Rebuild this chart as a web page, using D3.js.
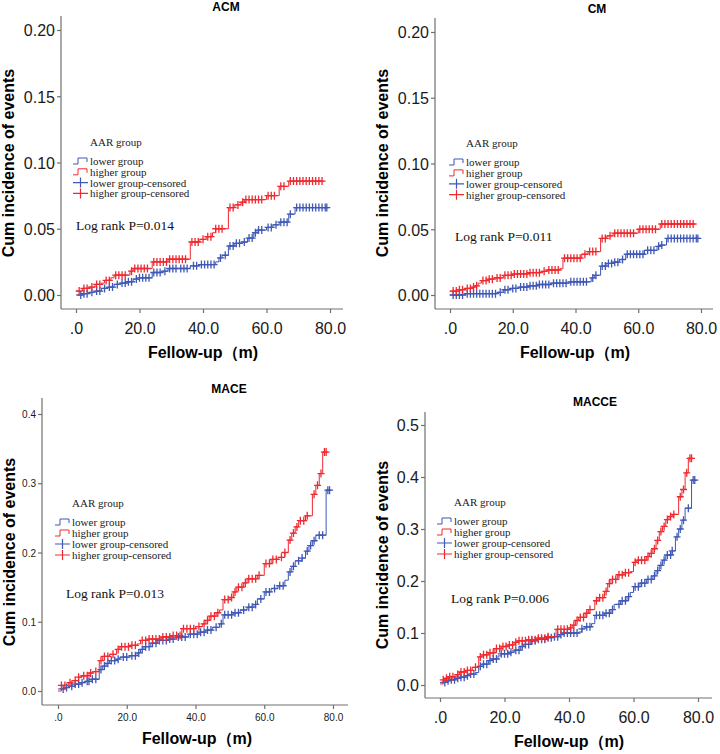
<!DOCTYPE html>
<html lang="en">
<head>
  <meta charset="UTF-8">
  <title>AAR group - cumulative incidence</title>
  <script src="https://d3js.org/d3.v7.min.js"></script>
  <style>
    body { margin: 0; background: white; }
    svg { display: block; }
  </style>
</head>
<body>
  <script>
    // ---- data ----
    const xTicks = [0, 20, 40, 60, 80];
    const smallYTicks = [0, 0.05, 0.10, 0.15, 0.20];
    const maceYTicks = [0, 0.1, 0.2, 0.3, 0.4];
    const macceYTicks = [0, 0.1, 0.2, 0.3, 0.4, 0.5];
    const legendLabels = ["lower group", "higher group", "lower group-censored", "higher group-censored"];

    // [month, cumulative incidence after the step]
    const acmLower = [[0,0],[2,0.001],[4,0.002],[6,0.003],[8,0.005],[10,0.006],[12,0.008],[14,0.009],[16,0.010],[18,0.012],[20,0.013],[24,0.017],[27,0.018],[29,0.020],[36,0.022],[39,0.023],[44,0.025],[45,0.028],[46,0.030],[48,0.037],[50,0.039],[52,0.040],[54,0.043],[56,0.047],[57,0.049],[60,0.051],[62,0.053],[64,0.055],[67,0.061],[69,0.066]];
    const acmHigher = [[0,0.003],[2,0.005],[4,0.006],[6,0.008],[8,0.009],[9,0.011],[11,0.013],[12,0.015],[17,0.018],[18,0.020],[24,0.025],[29,0.027],[36,0.040],[39,0.042],[41,0.044],[43,0.047],[44,0.050],[48,0.066],[50,0.068],[52,0.070],[53,0.072],[60,0.075],[64,0.082],[67,0.086]];
    const acmLowerCens = [1.5,2.5,3.5,5,6.5,7.5,9,10.5,11.5,13,14.5,15.5,16.5,17.5,19,20,21,22,23,24.5,25.5,26.5,28,29.5,30.5,31.5,33,34,35,37,38,39.5,40.5,41.5,42.5,43.5,45.5,47,48.5,49.5,50.5,51.5,53,54.5,55.5,56.5,57.5,58.5,60.5,61.5,63,64.5,65.5,66.5,67.5,69.5,70.5,71.5,72.5,73.5,74.5,75.5,76.5,77.5,78.5,79];
    const acmHigherCens = [1,2.5,3.5,5,6.5,7.5,9.5,10.5,12.5,13.5,14.5,15.5,17.5,18.5,19.5,20.5,21.5,22.5,24.5,25.5,26.5,27.5,28.5,29.5,30.5,31.5,32.5,33.5,34.5,36.5,37.5,38.5,40,41.5,42.5,44,45,46,48.5,49.5,51,52.5,53.5,54.5,55.5,56.5,57.5,58.5,60.5,61.5,62.5,64.5,65.5,67.5,68.5,69.5,70.5,71.5,72.5,73.5,74.5,75.5,76.5,77.5];

    const cmLower = [[0,0],[5,0.001],[15,0.002],[17,0.004],[19,0.005],[22,0.006],[25,0.007],[28,0.008],[32,0.009],[38,0.010],[45,0.013],[46,0.015],[48,0.022],[50,0.024],[52,0.025],[54,0.027],[56,0.031],[62,0.034],[66,0.037],[67,0.038],[69,0.043]];
    const cmHigher = [[0,0.003],[3,0.004],[5,0.005],[7,0.006],[8,0.007],[9,0.009],[10,0.011],[12,0.012],[14,0.013],[17,0.015],[20,0.016],[25,0.017],[29,0.018],[31,0.019],[35,0.020],[36,0.028],[42,0.031],[44,0.033],[48,0.043],[50,0.045],[52,0.047],[60,0.050],[67,0.054]];
    const cmLowerCens = [1,2,3,4,5.5,6.5,7.5,8.5,9.5,10.5,11.5,12.5,13.5,14.5,16,17.5,18.5,20,21,22.5,23.5,24.5,25.5,26.5,27.5,28.5,29.5,30.5,31.5,33,34,35,36,37,38.5,39.5,40.5,41.5,42.5,43.5,45.5,46.5,48.5,49.5,50.5,51.5,52.5,53.5,55,56.5,57.5,58.5,59.5,60.5,61.5,63,64,65,66.5,67.5,69.5,70.5,71.5,72.5,73.5,74.5,75.5,76.5,77.5,78.5,79];
    const cmHigherCens = [1,2,3,4,5.5,6.5,7.5,8.5,10.5,11.5,12.5,13.5,15,16,17.5,18.5,19.5,20.5,21.5,22.5,23.5,24.5,25.5,26.5,27.5,28.5,30,31.5,32.5,33.5,34.5,36.5,37.5,38.5,39.5,40.5,41.5,43,44.5,45.5,46.5,48.5,49.5,51,52.5,53.5,54.5,55.5,56.5,57.5,58.5,60.5,61.5,62.5,63.5,64.5,65.5,67.5,68.5,69.5,70.5,71.5,72.5,73.5,74.5,75.5,76.5,77.5];

    const maceLower = [[0,0.003],[2,0.005],[3,0.007],[5,0.010],[7,0.012],[8,0.014],[10,0.017],[12,0.031],[13,0.036],[14,0.040],[15,0.044],[17,0.046],[18,0.049],[21,0.051],[23,0.055],[24,0.060],[25,0.064],[27,0.069],[29,0.073],[32,0.075],[34,0.078],[38,0.082],[41,0.085],[43,0.088],[45,0.092],[47,0.097],[48,0.110],[51,0.113],[53,0.117],[55,0.121],[57,0.125],[58,0.133],[60,0.143],[62,0.148],[64,0.152],[66,0.160],[67,0.172],[68,0.180],[69,0.188],[71,0.192],[72,0.202],[73,0.210],[74,0.217],[75,0.225],[78,0.290]];
    const maceHigher = [[0,0],[1,0.008],[3,0.012],[4,0.015],[6,0.020],[7,0.022],[9,0.026],[10,0.028],[12,0.044],[13,0.050],[15,0.053],[17,0.060],[18,0.064],[21,0.066],[23,0.068],[24,0.073],[26,0.075],[30,0.078],[33,0.080],[36,0.090],[40,0.093],[42,0.097],[43,0.102],[44,0.108],[46,0.113],[47,0.117],[48,0.132],[50,0.135],[51,0.143],[52,0.150],[54,0.156],[55,0.162],[58,0.167],[60,0.184],[62,0.190],[64,0.193],[66,0.200],[67,0.218],[68,0.228],[69,0.237],[70,0.246],[72,0.253],[74,0.284],[75,0.297],[76,0.314],[77,0.345]];
    const maceLowerCens = [1.5,2.5,4,5,6,7,8.5,9,10,11,12.5,13.5,14.5,15.5,16.5,17.5,19,20,21.5,22.5,23.5,24.5,25.5,26.5,27.5,28.5,29.5,30.5,31.5,32.5,33.5,35,36,37,38.5,39.5,40.5,41.5,42.5,43.5,44.5,46,47.5,48.5,49.5,50.5,51.5,52.5,54,55.5,56.5,57.5,59,60.5,61.5,63,64.5,65.5,67.5,68.5,70,71,72.5,73.5,74.5,76,77,78.5,79];
    const maceHigherCens = [1,2,3.5,5,6,7.5,8.5,9.5,11,12.5,13.5,14.5,16,17.5,18.5,19.5,20.5,21.5,22.5,24.5,25.5,26.5,27.5,28.5,29.5,30.5,31.5,32.5,33.5,34.5,35.5,36.5,37.5,38.5,39.5,41,42.5,43.5,44.5,45.5,46.5,48.5,49.5,50.5,51.5,52.5,53.5,54.5,55.5,56.5,57.5,58.5,60.5,61.5,62.5,63.5,65,66,67.5,68.5,69.5,70.5,71.5,72.5,74.5,75.5,76.5,77.5,78];

    const macceLower = [[0,0.005],[2,0.008],[3,0.010],[5,0.013],[6,0.015],[8,0.018],[9,0.021],[11,0.024],[12,0.036],[13,0.040],[15,0.047],[16,0.050],[18,0.056],[19,0.060],[22,0.063],[23,0.067],[25,0.074],[26,0.078],[28,0.085],[30,0.088],[33,0.091],[35,0.093],[37,0.097],[38,0.100],[43,0.102],[44,0.108],[45,0.112],[47,0.118],[48,0.134],[51,0.138],[53,0.145],[54,0.155],[56,0.162],[58,0.170],[59,0.178],[60,0.189],[62,0.196],[64,0.203],[66,0.210],[67,0.220],[68,0.230],[69,0.240],[70,0.250],[72,0.258],[73,0.285],[74,0.300],[75,0.317],[76,0.340],[78,0.394]];
    const macceHigher = [[0,0.002],[1,0.010],[2,0.013],[3,0.016],[5,0.020],[6,0.025],[8,0.028],[10,0.034],[12,0.054],[13,0.058],[15,0.062],[17,0.070],[19,0.074],[21,0.077],[23,0.082],[24,0.085],[27,0.087],[30,0.090],[33,0.093],[36,0.107],[40,0.110],[41,0.115],[42,0.124],[43,0.130],[45,0.138],[46,0.145],[48,0.162],[49,0.168],[51,0.180],[52,0.195],[53,0.203],[55,0.212],[57,0.216],[59,0.218],[60,0.236],[61,0.240],[64,0.247],[65,0.253],[66,0.262],[67,0.278],[68,0.295],[69,0.305],[70,0.318],[71,0.324],[72,0.328],[74,0.362],[75,0.376],[76,0.408],[77,0.436]];
    const macceLowerCens = [1.5,2.5,3.5,4.5,5.5,6.5,7.5,8.5,9.5,10.5,12.5,13.5,14.5,15.5,16.5,17.5,19,20,21,22,23.5,24.5,25.5,26.5,27.5,28.5,29.5,30.5,31.5,32.5,33.5,34.5,35.5,36.5,37.5,38.5,39.5,40.5,41.5,42.5,44,45.5,46.5,48.5,49.5,50.5,51.5,52.5,53.5,55.5,56.5,57.5,58.5,60.5,61.5,62.5,63.5,64.5,65.5,66.5,67.5,68.5,69.5,70.5,71.5,72,73.5,74.5,75.5,77,78.5,79];
    const macceHigherCens = [1,2,3,4,5.5,6.5,7.5,8.5,9.5,11,12.5,13.5,14.5,15.5,16.5,17.5,18.5,19.5,20.5,21.5,22.5,23.5,24.5,25.5,26.5,27.5,28.5,29.5,30.5,31.5,32.5,33.5,36.5,37.5,38.5,39.5,40.5,41.5,42.5,43.5,44.5,45.5,46.5,48.5,49.5,50.5,51.5,52.5,53.5,54.5,55.5,56.5,57.5,58.5,60.5,61.5,62.5,63.5,64.5,65.5,66.5,67.5,68.5,69.5,70.5,71.5,72.5,74.5,75.5,76.5,77.5,78];

    const panelTitles = ["ACM", "CM", "MACE", "MACCE"];
    const pValues = ["0.014", "0.011", "0.013", "0.006"];
    const lastFollowUp = { lower: 79, higher: 78 };

    // ---- layout ----
    const blue = "#3f58b6";
    const red = "#ee2a30";
    const axisColor = "#707070";
    const sans = "'Liberation Sans', Arial, sans-serif";
    const serif = "'Liberation Serif', 'Times New Roman', serif";

    const panels = [
      { title: panelTitles[0], p: pValues[0], lower: acmLower, higher: acmHigher, lowerCens: acmLowerCens, higherCens: acmHigherCens,
        yTicks: smallYTicks, yMax: 0.20, dec: 2, tickFont: 16,
        xr: [76, 330], yr: [295, 30], axisX: 61, axisTop: 16, axisY: 309, axisRight: 343,
        titleX: 226, titleY: 11, xLabX: 203, xLabY: 358, yLabX: 14, yLabY: 163, xTickY: 334,
        legX: 73, legY: 146, legStep: 10.8, pX: 76, pY: 230 },
      { title: panelTitles[1], p: pValues[1], lower: cmLower, higher: cmHigher, lowerCens: cmLowerCens, higherCens: cmHigherCens,
        yTicks: smallYTicks, yMax: 0.20, dec: 2, tickFont: 16,
        xr: [450, 701], yr: [295, 32], axisX: 435, axisTop: 18, axisY: 309, axisRight: 713,
        titleX: 597, titleY: 13, xLabX: 575, xLabY: 358, yLabX: 388, yLabY: 163, xTickY: 334,
        legX: 449, legY: 147, legStep: 10.9, pX: 455, pY: 241 },
      { title: panelTitles[2], p: pValues[2], lower: maceLower, higher: maceHigher, lowerCens: maceLowerCens, higherCens: maceHigherCens,
        yTicks: maceYTicks, yMax: 0.4, dec: 1, tickFont: 10,
        xr: [58, 333], yr: [691, 414], axisX: 42, axisTop: 398, axisY: 705, axisRight: 348,
        titleX: 229, titleY: 393, xLabX: 197, xLabY: 744, yLabX: 15, yLabY: 552, xTickY: 721,
        legX: 55, legY: 507, legStep: 11, pX: 66, pY: 598 },
      { title: panelTitles[3], p: pValues[3], lower: macceLower, higher: macceHigher, lowerCens: macceLowerCens, higherCens: macceHigherCens,
        yTicks: macceYTicks, yMax: 0.5, dec: 1, tickFont: 16,
        xr: [440, 698], yr: [685, 425], axisX: 425, axisTop: 412, axisY: 698, axisRight: 712,
        titleX: 595, titleY: 406, xLabX: 569, xLabY: 747, yLabX: 388, yLabY: 555, xTickY: 723,
        legX: 437, legY: 506, legStep: 11, pX: 451, pY: 603 }
    ];

    const svg = d3.select("body").append("svg")
      .attr("width", 720)
      .attr("height", 754)
      .style("background", "white");

    const bisectT = d3.bisector(d => d[0]).right;
    function valueAt(steps, t) {
      const i = bisectT(steps, t) - 1;
      return steps[Math.max(0, i)][1];
    }

    function crossPath(cx, cy) {
      return `M${cx - 3.5},${cy}h7M${cx},${cy - 4}v8`;
    }

    function drawPanel(p) {
      const g = svg.append("g");
      const x = d3.scaleLinear().domain([0, 80]).range(p.xr);
      const y = d3.scaleLinear().domain([0, p.yMax]).range(p.yr);

      // axis lines (SPSS style, detached from data range)
      g.append("line")
        .attr("x1", p.axisX).attr("x2", p.axisX)
        .attr("y1", p.axisTop).attr("y2", p.axisY)
        .attr("stroke", axisColor).attr("stroke-width", 1.2);
      g.append("line")
        .attr("x1", p.axisX).attr("x2", p.axisRight)
        .attr("y1", p.axisY).attr("y2", p.axisY)
        .attr("stroke", axisColor).attr("stroke-width", 1.2);

      const yAxis = g.append("g")
        .attr("transform", `translate(${p.axisX},0)`)
        .call(d3.axisLeft(y).tickValues(p.yTicks).tickSize(4).tickFormat(d => d.toFixed(p.dec)));
      const xAxis = g.append("g")
        .attr("transform", `translate(0,${p.axisY})`)
        .call(d3.axisBottom(x).tickValues(xTicks).tickSize(4)
          .tickFormat(d => d === 0 ? ".0" : d.toFixed(1)));

      [yAxis, xAxis].forEach(a => {
        a.select(".domain").remove();
        a.selectAll(".tick line").attr("stroke", axisColor).attr("stroke-width", 1.2);
        a.selectAll(".tick text")
          .attr("fill", "#1a1a1a")
          .style("font-family", sans)
          .style("font-size", p.tickFont + "px");
      });
      yAxis.selectAll(".tick text").attr("x", -6).attr("dy", "0.36em");
      xAxis.selectAll(".tick text").attr("y", null).attr("dy", null)
        .attr("transform", `translate(0,${p.xTickY - p.axisY})`);

      // titles
      g.append("text")
        .attr("x", p.titleX).attr("y", p.titleY)
        .attr("text-anchor", "middle")
        .style("font-family", sans).style("font-weight", "bold").style("font-size", "12px")
        .text(p.title);
      g.append("text")
        .attr("x", p.xLabX).attr("y", p.xLabY)
        .attr("text-anchor", "middle")
        .style("font-family", sans).style("font-weight", "bold").style("font-size", "16px")
        .text("Fellow-up（m)");
      g.append("text")
        .attr("transform", `translate(${p.yLabX},${p.yLabY}) rotate(-90)`)
        .attr("text-anchor", "middle")
        .style("font-family", sans).style("font-weight", "bold").style("font-size", "16px")
        .text("Cum incidence of events");

      // step curves
      const line = d3.line()
        .x(d => x(d[0]))
        .y(d => y(d[1]))
        .curve(d3.curveStepAfter);

      const series = [
        { steps: p.lower, cens: p.lowerCens, end: lastFollowUp.lower, color: blue },
        { steps: p.higher, cens: p.higherCens, end: lastFollowUp.higher, color: red }
      ];

      series.forEach(s => {
        const pts = s.steps.concat([[s.end, s.steps[s.steps.length - 1][1]]]);
        g.append("path")
          .datum(pts)
          .attr("fill", "none")
          .attr("stroke", s.color)
          .attr("stroke-width", 1)
          .attr("d", line);
        g.append("g").selectAll("path")
          .data(s.cens)
          .join("path")
          .attr("d", t => crossPath(x(t), y(valueAt(s.steps, t))))
          .attr("fill", "none")
          .attr("stroke", s.color)
          .attr("stroke-width", 1.3);
      });

      // legend
      const lg = g.append("g");
      lg.append("text")
        .attr("x", p.legX + 17).attr("y", p.legY)
        .style("font-family", serif).style("font-size", "11px")
        .attr("fill", "#222")
        .text("AAR group");
      legendLabels.forEach((lab, i) => {
        const ly = p.legY + 19 + i * p.legStep;
        const col = i % 2 === 0 ? blue : red;
        const sx = p.legX;
        const cy = ly - 4;
        if (i < 2) {
          lg.append("path")
            .attr("d", `M${sx},${cy + 3}H${sx + 5}V${cy - 3}H${sx + 14}V${cy + 1}`)
            .attr("fill", "none").attr("stroke", col).attr("stroke-width", 1);
        } else {
          lg.append("path")
            .attr("d", `M${sx},${cy}h15M${sx + 7.5},${cy - 5}v10`)
            .attr("fill", "none").attr("stroke", col).attr("stroke-width", 1.2);
        }
        lg.append("text")
          .attr("x", sx + 17).attr("y", ly)
          .style("font-family", serif).style("font-size", "11px")
          .attr("fill", "#222")
          .text(lab);
      });

      g.append("text")
        .attr("x", p.pX).attr("y", p.pY)
        .style("font-family", serif).style("font-size", "13.5px")
        .attr("fill", "#111")
        .text("Log rank P=" + p.p);
    }

    panels.forEach(drawPanel);
  </script>
</body>
</html>
